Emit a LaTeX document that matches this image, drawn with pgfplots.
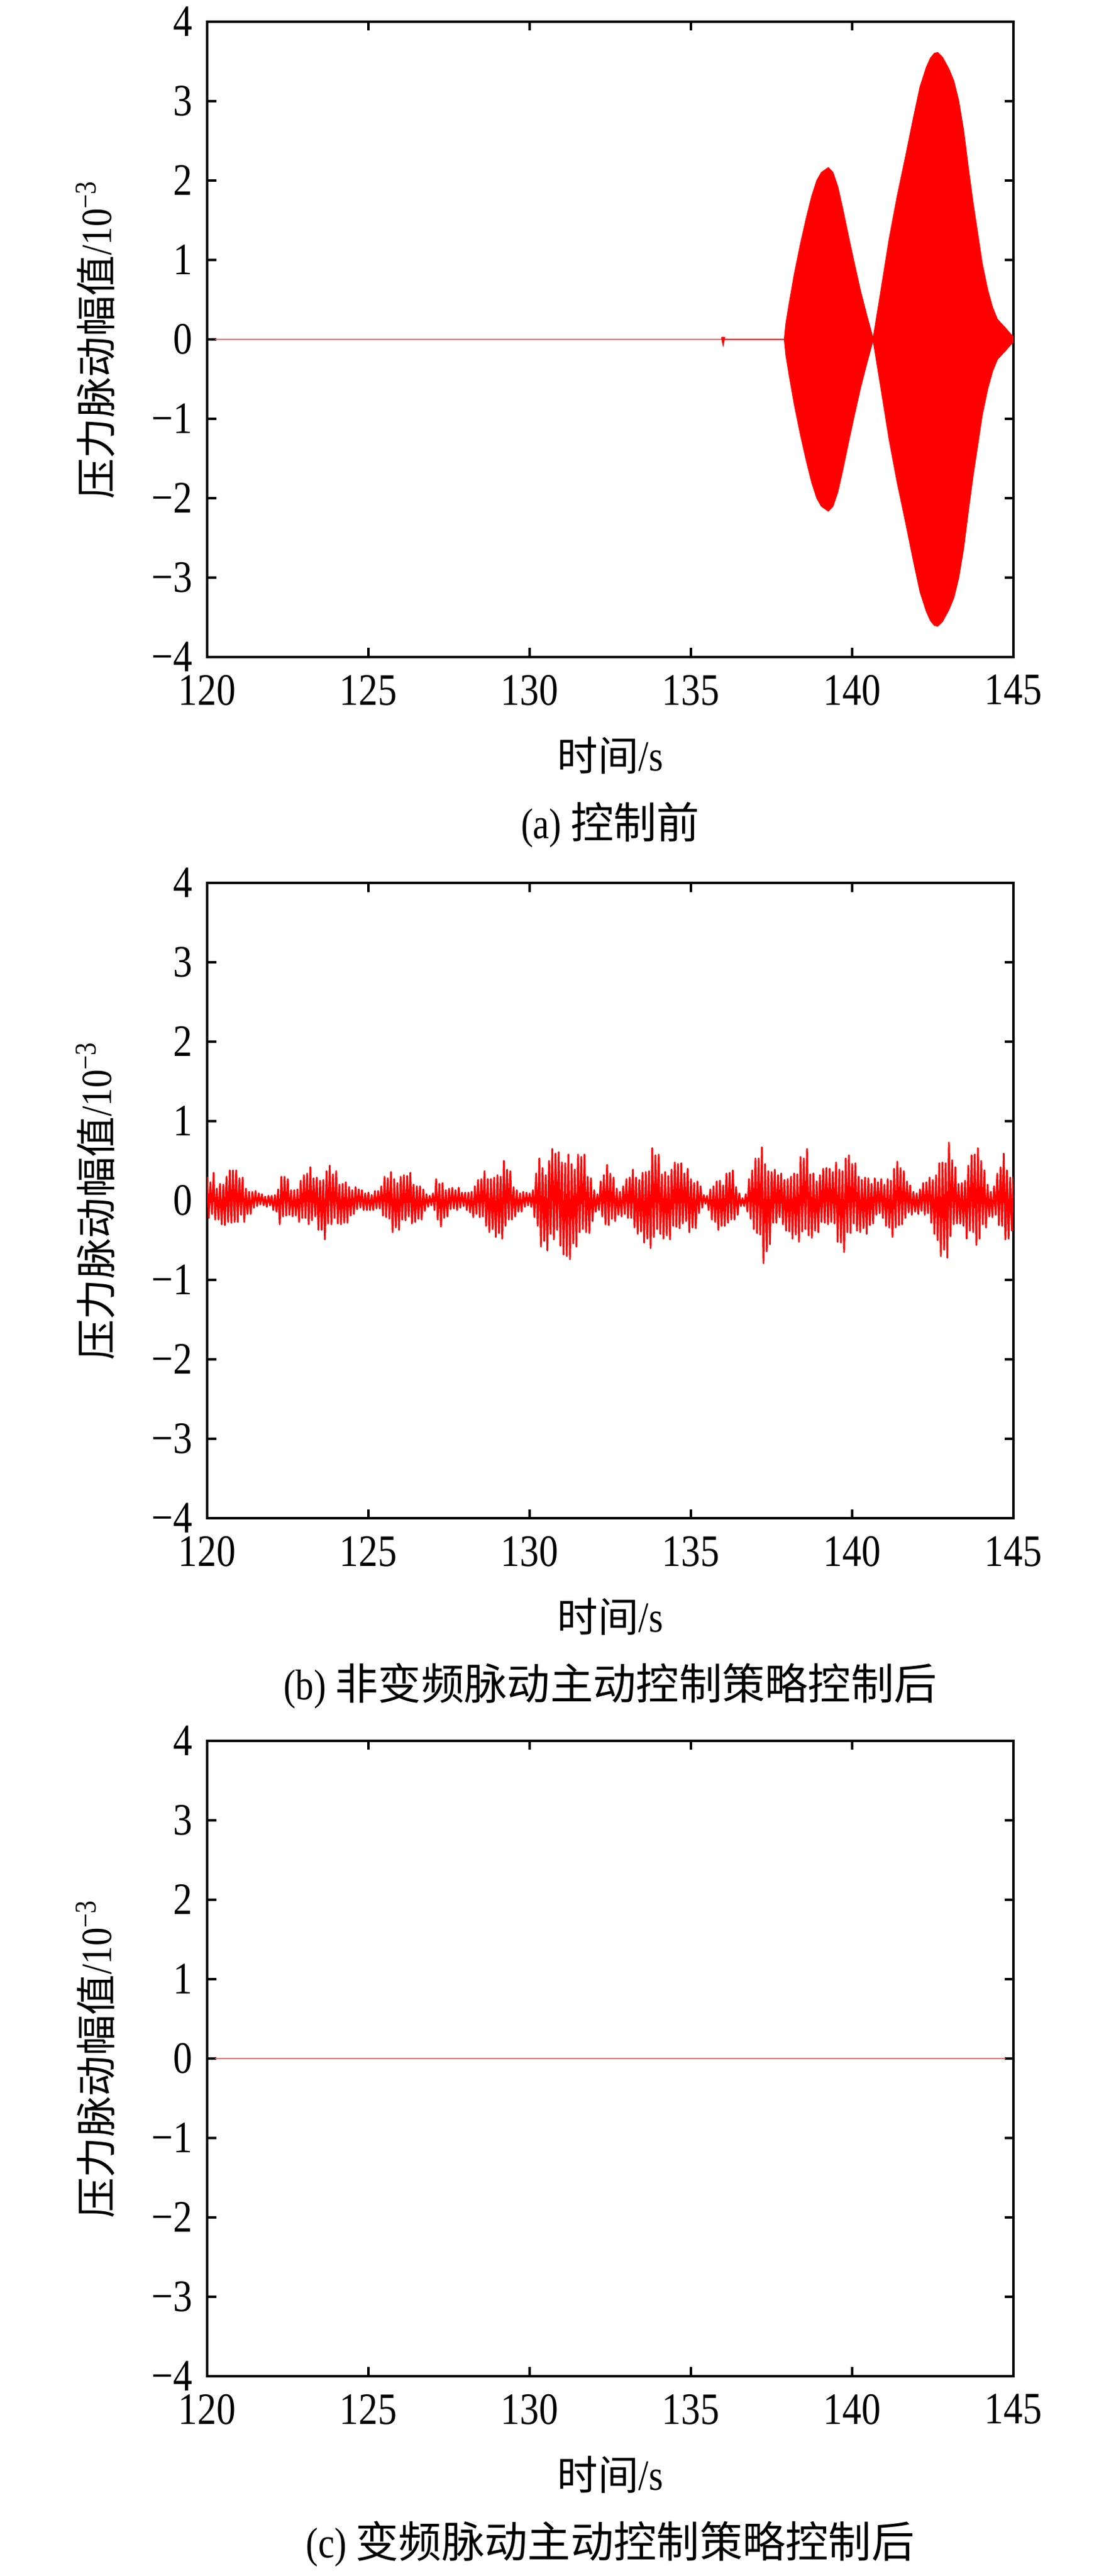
\documentclass[border=0pt]{standalone}
\usepackage{pgfplots}
\pgfplotsset{compat=1.18}
\usepackage{fontspec}
\setmainfont{Liberation Serif}[FakeStretch=0.85]
\newfontfamily\cjk{Noto Sans CJK SC}
\definecolor{flatred}{RGB}{240,110,110}
\newcommand{\lcjk}[1]{{\cjk\fontsize{10.4}{12.5}\selectfont #1}}
\pgfplotsset{
  panel/.style={
    scale only axis, width=206.35pt, height=162.54pt,
    xmin=120, xmax=145, ymin=-4, ymax=4,
    xtick={120,125,130,135,140,145},
    xticklabels={120,125,130,135,140,145},
    ytick={-4,-3,-2,-1,0,1,2,3,4},
    yticklabels={−4,−3,−2,−1,0,1,2,3,4},
    tick align=inside, major tick length=2.3pt,
    axis line style={line width=0.63pt},
    major tick style={line width=0.63pt, black},
    font=\fontsize{11}{13}\selectfont,
    ticklabel style={font=\fontsize{11.5}{13.5}\selectfont},
    xticklabel style={yshift=-1.1pt},
    yticklabel style={xshift=-0.2pt},
    xlabel={\lcjk{时间}/s},
    ylabel={\lcjk{压力脉动幅值}/10\textsuperscript{−3}},
    every axis x label/.style={at={(rel axis cs:0.5,0)}, yshift=-25.2pt, anchor=center},
    every axis y label/.style={at={(rel axis cs:0,0.5)}, xshift=-28.6pt, anchor=center, rotate=90},
    clip mode=individual,
  }
}
\begin{document}
\begin{tikzpicture}
\useasboundingbox (0,0) rectangle (281.27pt,659.05pt);
% ---------------- (a)
\begin{axis}[panel, at={(53.02pt,653.49pt)}, anchor=north west]
\addplot[flatred, line width=0.45pt] coordinates {(120.25,0) (137.92,0)};
\addplot[red, line width=0.3pt] coordinates {(135.95,0) (137.92,0)};
\addplot[red, line width=0.6pt] coordinates {(135.97,0.03) (136.0,-0.03) (136.03,0.03)};
\addplot[red, fill=red, line width=0.3pt] coordinates {
(137.90,0) (137.95,0.20) (138.05,0.45) (138.21,0.82) (138.40,1.20) (138.59,1.54) (138.75,1.80) (138.91,2.00) (139.05,2.10) (139.26,2.16) (139.40,2.10) (139.55,1.92) (139.70,1.65) (139.87,1.32) (140.05,0.98) (140.26,0.60) (140.45,0.30) (140.65,0.00)
(140.85,0.50) (141.15,1.26) (141.40,1.80) (141.66,2.30) (141.90,2.78) (142.11,3.18) (142.30,3.42) (142.43,3.54) (142.55,3.60) (142.65,3.61) (142.80,3.55) (143.00,3.40) (143.15,3.25) (143.30,3.00) (143.45,2.63) (143.60,2.15) (143.75,1.70) (143.90,1.30) (144.03,0.95) (144.20,0.62) (144.35,0.40) (144.50,0.25) (144.73,0.15) (144.90,0.07) (145.00,0.03)
(145.00,-0.03) (144.90,-0.07) (144.73,-0.15) (144.50,-0.25) (144.35,-0.40) (144.20,-0.62) (144.03,-0.95) (143.90,-1.30) (143.75,-1.70) (143.60,-2.15) (143.45,-2.63) (143.30,-3.00) (143.15,-3.25) (143.00,-3.40) (142.80,-3.55) (142.65,-3.61) (142.55,-3.60) (142.43,-3.54) (142.30,-3.42) (142.11,-3.18) (141.90,-2.78) (141.66,-2.30) (141.40,-1.80) (141.15,-1.26) (140.85,-0.50) (140.65,0.00)
(140.45,-0.30) (140.26,-0.60) (140.05,-0.98) (139.87,-1.32) (139.70,-1.65) (139.55,-1.92) (139.40,-2.10) (139.26,-2.16) (139.05,-2.10) (138.91,-2.00) (138.75,-1.80) (138.59,-1.54) (138.40,-1.20) (138.21,-0.82) (138.05,-0.45) (137.95,-0.20) (137.90,0)
} -- cycle;
\node[font=\fontsize{11}{13}\selectfont] at (rel axis cs:0.5,0) [yshift=-43pt, anchor=center] {(a) {\cjk 控制前}};
\end{axis}
% ---------------- (b)
\begin{axis}[panel, at={(53.02pt,433.17pt)}, anchor=north west]
\addplot[red, line width=0.45pt, line join=round] table {
120.00 0.30
120.05 -0.22
120.10 0.23
120.15 -0.17
120.20 0.35
120.25 -0.24
120.30 0.15
120.35 -0.24
120.40 0.21
120.45 -0.30
120.50 0.20
120.55 -0.31
120.60 0.30
120.65 -0.27
120.70 0.38
120.75 -0.28
120.80 0.38
120.85 -0.27
120.90 0.38
120.95 -0.27
121.00 0.28
121.05 -0.18
121.10 0.29
121.15 -0.27
121.20 0.15
121.25 -0.17
121.30 0.11
121.35 -0.17
121.40 0.11
121.45 -0.09
121.50 0.12
121.55 -0.07
121.60 0.09
121.65 -0.05
121.70 0.08
121.75 -0.06
121.80 0.05
121.85 -0.08
121.90 0.06
121.95 -0.06
122.00 0.06
122.05 -0.12
122.10 0.07
122.15 -0.14
122.20 0.14
122.25 -0.30
122.30 0.30
122.35 -0.20
122.40 0.30
122.45 -0.19
122.50 0.27
122.55 -0.18
122.60 0.13
122.65 -0.20
122.70 0.13
122.75 -0.19
122.80 0.14
122.85 -0.27
122.90 0.25
122.95 -0.22
123.00 0.32
123.05 -0.22
123.10 0.34
123.15 -0.30
123.20 0.42
123.25 -0.25
123.30 0.28
123.35 -0.20
123.40 0.29
123.45 -0.37
123.50 0.25
123.55 -0.37
123.60 0.26
123.65 -0.49
123.70 0.37
123.75 -0.29
123.80 0.44
123.85 -0.30
123.90 0.33
123.95 -0.22
124.00 0.37
124.05 -0.29
124.10 0.20
124.15 -0.30
124.20 0.21
124.25 -0.28
124.30 0.23
124.35 -0.28
124.40 0.17
124.45 -0.19
124.50 0.13
124.55 -0.17
124.60 0.17
124.65 -0.11
124.70 0.14
124.75 -0.09
124.80 0.13
124.85 -0.12
124.90 0.09
124.95 -0.12
125.00 0.10
125.05 -0.12
125.10 0.07
125.15 -0.12
125.20 0.12
125.25 -0.10
125.30 0.12
125.35 -0.10
125.40 0.18
125.45 -0.19
125.50 0.30
125.55 -0.21
125.60 0.28
125.65 -0.23
125.70 0.36
125.75 -0.40
125.80 0.27
125.85 -0.34
125.90 0.22
125.95 -0.37
126.00 0.30
126.05 -0.24
126.10 0.32
126.15 -0.25
126.20 0.31
126.25 -0.20
126.30 0.35
126.35 -0.29
126.40 0.20
126.45 -0.27
126.50 0.18
126.55 -0.23
126.60 0.18
126.65 -0.24
126.70 0.14
126.75 -0.13
126.80 0.08
126.85 -0.08
126.90 0.06
126.95 -0.06
127.00 0.09
127.05 -0.12
127.10 0.27
127.15 -0.24
127.20 0.21
127.25 -0.33
127.30 0.22
127.35 -0.22
127.40 0.13
127.45 -0.20
127.50 0.15
127.55 -0.11
127.60 0.16
127.65 -0.10
127.70 0.13
127.75 -0.12
127.80 0.16
127.85 -0.09
127.90 0.10
127.95 -0.07
128.00 0.10
128.05 -0.12
128.10 0.10
128.15 -0.15
128.20 0.11
128.25 -0.21
128.30 0.18
128.35 -0.17
128.40 0.26
128.45 -0.21
128.50 0.27
128.55 -0.20
128.60 0.37
128.65 -0.32
128.70 0.27
128.75 -0.40
128.80 0.27
128.85 -0.36
128.90 0.29
128.95 -0.46
129.00 0.32
129.05 -0.41
129.10 0.30
129.15 -0.48
129.20 0.50
129.25 -0.32
129.30 0.39
129.35 -0.24
129.40 0.37
129.45 -0.24
129.50 0.17
129.55 -0.20
129.60 0.13
129.65 -0.14
129.70 0.09
129.75 -0.14
129.80 0.11
129.85 -0.08
129.90 0.10
129.95 -0.06
130.00 0.09
130.05 -0.08
130.10 0.13
130.15 -0.21
130.20 0.34
130.25 -0.32
130.30 0.53
130.35 -0.58
130.40 0.41
130.45 -0.51
130.50 0.32
130.55 -0.63
130.60 0.50
130.65 -0.42
130.70 0.65
130.75 -0.49
130.80 0.59
130.85 -0.37
130.90 0.61
130.95 -0.57
131.00 0.48
131.05 -0.68
131.10 0.47
131.15 -0.70
131.20 0.58
131.25 -0.74
131.30 0.46
131.35 -0.54
131.40 0.39
131.45 -0.58
131.50 0.58
131.55 -0.40
131.60 0.55
131.65 -0.36
131.70 0.58
131.75 -0.40
131.80 0.30
131.85 -0.41
131.90 0.28
131.95 -0.26
132.00 0.13
132.05 -0.14
132.10 0.08
132.15 -0.12
132.20 0.24
132.25 -0.20
132.30 0.32
132.35 -0.30
132.40 0.45
132.45 -0.31
132.50 0.34
132.55 -0.23
132.60 0.29
132.65 -0.26
132.70 0.15
132.75 -0.18
132.80 0.11
132.85 -0.20
132.90 0.18
132.95 -0.17
133.00 0.27
133.05 -0.22
133.10 0.29
133.15 -0.22
133.20 0.39
133.25 -0.34
133.30 0.29
133.35 -0.42
133.40 0.26
133.45 -0.39
133.50 0.35
133.55 -0.53
133.60 0.36
133.65 -0.48
133.70 0.37
133.75 -0.60
133.80 0.66
133.85 -0.46
133.90 0.57
133.95 -0.36
134.00 0.58
134.05 -0.42
134.10 0.33
134.15 -0.48
134.20 0.36
134.25 -0.44
134.30 0.31
134.35 -0.49
134.40 0.39
134.45 -0.32
134.50 0.48
134.55 -0.33
134.60 0.46
134.65 -0.35
134.70 0.47
134.75 -0.29
134.80 0.34
134.85 -0.26
134.90 0.40
134.95 -0.40
135.00 0.27
135.05 -0.34
135.10 0.22
135.15 -0.35
135.20 0.24
135.25 -0.16
135.30 0.18
135.35 -0.09
135.40 0.07
135.45 -0.04
135.50 0.06
135.55 -0.12
135.60 0.14
135.65 -0.24
135.70 0.18
135.75 -0.27
135.80 0.24
135.85 -0.37
135.90 0.25
135.95 -0.32
136.00 0.19
136.05 -0.32
136.10 0.34
136.15 -0.28
136.20 0.35
136.25 -0.24
136.30 0.38
136.35 -0.24
136.40 0.17
136.45 -0.18
136.50 0.09
136.55 -0.07
136.60 0.03
136.65 -0.07
136.70 0.08
136.75 -0.14
136.80 0.27
136.85 -0.23
136.90 0.38
136.95 -0.36
137.00 0.53
137.05 -0.41
137.10 0.53
137.15 -0.43
137.20 0.67
137.25 -0.79
137.30 0.46
137.35 -0.64
137.40 0.37
137.45 -0.55
137.50 0.36
137.55 -0.28
137.60 0.39
137.65 -0.28
137.70 0.32
137.75 -0.21
137.80 0.34
137.85 -0.30
137.90 0.26
137.95 -0.38
138.00 0.27
138.05 -0.39
138.10 0.30
138.15 -0.48
138.20 0.34
138.25 -0.43
138.30 0.33
138.35 -0.52
138.40 0.55
138.45 -0.39
138.50 0.53
138.55 -0.36
138.60 0.65
138.65 -0.44
138.70 0.33
138.75 -0.47
138.80 0.34
138.85 -0.38
138.90 0.24
138.95 -0.40
139.00 0.32
139.05 -0.27
139.10 0.40
139.15 -0.28
139.20 0.41
139.25 -0.30
139.30 0.40
139.35 -0.27
139.40 0.36
139.45 -0.29
139.50 0.48
139.55 -0.52
139.60 0.39
139.65 -0.53
139.70 0.37
139.75 -0.65
139.80 0.53
139.85 -0.40
139.90 0.57
139.95 -0.41
140.00 0.46
140.05 -0.29
140.10 0.47
140.15 -0.38
140.20 0.30
140.25 -0.40
140.30 0.26
140.35 -0.35
140.40 0.29
140.45 -0.42
140.50 0.28
140.55 -0.31
140.60 0.21
140.65 -0.29
140.70 0.28
140.75 -0.18
140.80 0.23
140.85 -0.16
140.90 0.27
140.95 -0.22
141.00 0.20
141.05 -0.32
141.10 0.27
141.15 -0.34
141.20 0.25
141.25 -0.46
141.30 0.40
141.35 -0.34
141.40 0.49
141.45 -0.31
141.50 0.41
141.55 -0.30
141.60 0.37
141.65 -0.22
141.70 0.24
141.75 -0.15
141.80 0.19
141.85 -0.18
141.90 0.11
141.95 -0.14
142.00 0.09
142.05 -0.17
142.10 0.14
142.15 -0.13
142.20 0.22
142.25 -0.18
142.30 0.23
142.35 -0.16
142.40 0.29
142.45 -0.28
142.50 0.26
142.55 -0.42
142.60 0.32
142.65 -0.50
142.70 0.47
142.75 -0.70
142.80 0.48
142.85 -0.62
142.90 0.47
142.95 -0.72
143.00 0.73
143.05 -0.45
143.10 0.51
143.15 -0.30
143.20 0.42
143.25 -0.29
143.30 0.21
143.35 -0.29
143.40 0.22
143.45 -0.32
143.50 0.25
143.55 -0.48
143.60 0.44
143.65 -0.38
143.70 0.57
143.75 -0.40
143.80 0.58
143.85 -0.56
143.90 0.66
143.95 -0.48
144.00 0.50
144.05 -0.30
144.10 0.38
144.15 -0.34
144.20 0.20
144.25 -0.20
144.30 0.11
144.35 -0.21
144.40 0.18
144.45 -0.18
144.50 0.34
144.55 -0.31
144.60 0.42
144.65 -0.32
144.70 0.59
144.75 -0.49
144.80 0.38
144.85 -0.48
144.90 0.29
144.95 -0.38
145.00 0.30
};
\node[font=\fontsize{11}{13}\selectfont] at (rel axis cs:0.5,0) [yshift=-43pt, anchor=center] {(b) {\cjk 非变频脉动主动控制策略控制后}};
\end{axis}
% ---------------- (c)
\begin{axis}[panel, at={(53.02pt,213.65pt)}, anchor=north west]
\addplot[flatred, line width=0.45pt] coordinates {(120.25,0) (144.75,0)};
\node[font=\fontsize{11}{13}\selectfont] at (rel axis cs:0.5,0) [yshift=-43pt, anchor=center] {(c) {\cjk 变频脉动主动控制策略控制后}};
\end{axis}
\end{tikzpicture}
\end{document}
